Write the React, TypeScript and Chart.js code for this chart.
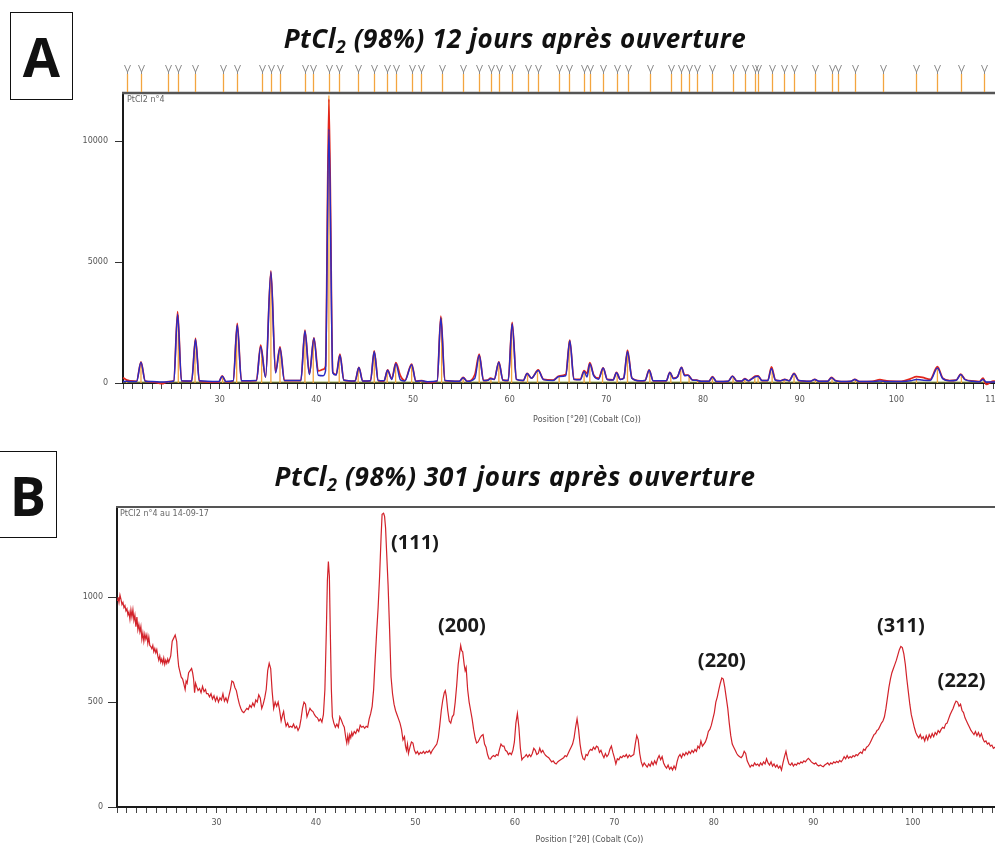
import React, { useEffect, useRef } from 'react';
import { Chart, registerables } from 'chart.js';

Chart.register(...registerables);

// ---------- Panel A : reference peak positions (°2θ) and stick heights ----------
const refPositionsA = [
  20.38, 21.86, 24.68, 25.72, 27.45, 30.31, 31.76, 34.34, 35.3, 36.24,
  38.82, 39.68, 41.3, 42.37, 44.33, 45.99, 47.33, 48.2, 49.86, 50.79,
  52.96, 55.19, 56.85, 58.06, 58.88, 60.2, 61.85, 62.88, 65.12, 66.15,
  67.7, 68.29, 69.61, 71.12, 72.19, 74.5, 76.67, 77.7, 78.56, 79.43,
  80.98, 83.11, 84.32, 85.36, 85.7, 87.15, 88.39, 89.42, 91.63, 93.35,
  93.97, 95.77, 98.62, 102.08, 104.25, 106.73, 109.07,
];
const refHeightsA = [
  100, 850, 50, 2800, 1750, 250, 2350, 1400, 4500, 1400,
  2100, 1800, 11900, 1100, 600, 1300, 500, 750, 700, 80,
  2700, 200, 1150, 150, 850, 2450, 350, 500, 250, 1750,
  450, 800, 600, 400, 1350, 500, 400, 600, 300, 100,
  250, 250, 150, 250, 300, 650, 150, 350, 120, 200,
  100, 120, 100, 200, 650, 350, 150,
];

// ---------- Panel A : observed (red) and calculated (blue) profiles ----------
const profileXA = [
  20.0, 20.4, 20.8, 21.4, 21.86, 22.3, 23.0, 24.0, 24.7, 25.25,
  25.65, 26.05, 27.1, 27.5, 27.9, 29.9, 30.27, 30.65, 31.4, 31.82,
  32.25, 33.8, 34.24, 34.75, 35.3, 35.78, 36.24, 36.7, 38.4, 38.82,
  39.28, 39.75, 40.2, 40.7, 40.95, 41.3, 41.7, 42.05, 42.44, 42.85,
  44.0, 44.4, 44.8, 45.6, 45.99, 46.4, 47.0, 47.37, 47.8, 48.23,
  48.7, 49.15, 49.86, 50.3, 50.9, 51.5, 52.5, 52.88, 53.3, 54.8,
  55.19, 55.6, 56.4, 56.85, 57.3, 57.75, 58.02, 58.4, 58.88, 59.3,
  59.85, 60.26, 60.7, 61.4, 61.81, 62.25, 62.95, 63.5, 64.5, 65.1,
  65.8, 66.22, 66.65, 67.3, 67.7, 68.0, 68.29, 68.7, 69.2, 69.67,
  70.1, 70.7, 71.05, 71.45, 71.8, 72.19, 72.65, 73.5, 74.0, 74.43,
  74.85, 76.2, 76.57, 76.95, 77.35, 77.78, 78.1, 78.46, 78.9, 79.33,
  79.8, 80.6, 80.98, 81.4, 82.6, 83.05, 83.5, 84.0, 84.32, 84.7,
  85.1, 85.4, 85.7, 86.1, 86.7, 87.08, 87.5, 88.0, 88.46, 88.9,
  89.42, 89.9, 91.1, 91.56, 92.0, 92.9, 93.29, 93.7, 94.3, 95.3,
  95.7, 96.2, 97.5, 98.3, 99.0, 100.5, 101.5, 102.08, 102.7, 103.5,
  104.25, 104.8, 105.5, 106.2, 106.66, 107.1, 108.0, 108.6, 108.97, 109.3,
  110.0, 111.0, 112.0,
];
const observedA = [
  220, 120, 90, 70, 880, 80, 50, -30, 60, 80,
  2950, 90, 70, 1850, 80, 40, 300, 50, 80, 2470,
  90, 100, 1570, 250, 4640, 450, 1500, 100, 100, 2190,
  380, 1870, 500, 560, 700, 11750, 450, 350, 1200, 120,
  80, 650, 80, 90, 1335, 100, 80, 540, 180, 840,
  300, 100, 785, 70, 100, 20, 80, 2770, 100, 70,
  235, 70, 350, 1200, 100, 120, 200, 150, 880, 120,
  100, 2510, 150, 100, 400, 200, 540, 150, 120, 290,
  350, 1780, 150, 150, 510, 400, 840, 330, 200, 630,
  150, 130, 440, 150, 200, 1360, 200, 90, 100, 540,
  90, 90, 440, 200, 250, 650, 330, 330, 130, 120,
  70, 70, 260, 60, 70, 290, 80, 80, 180, 90,
  200, 290, 300, 100, 100, 670, 120, 90, 150, 90,
  400, 100, 70, 150, 70, 70, 235, 100, 60, 70,
  150, 60, 70, 140, 90, 70, 180, 260, 230, 150,
  675, 200, 100, 120, 370, 150, 80, 60, 200, -60,
  80, 50, 40,
];
const calculatedA = [
  60, 70, 60, 60, 860, 70, 60, 40, 50, 80,
  2850, 90, 80, 1800, 90, 60, 280, 60, 90, 2400,
  90, 100, 1500, 240, 4600, 410, 1450, 100, 100, 2150,
  350, 1850, 320, 300, 500, 10500, 420, 330, 1150, 110,
  80, 640, 80, 90, 1300, 100, 90, 530, 150, 800,
  130, 80, 760, 70, 90, 50, 80, 2700, 100, 70,
  220, 70, 200, 1150, 100, 110, 180, 150, 860, 120,
  100, 2450, 150, 100, 390, 200, 520, 140, 100, 270,
  300, 1750, 150, 130, 480, 250, 800, 300, 160, 620,
  140, 120, 420, 150, 200, 1300, 200, 90, 100, 530,
  90, 90, 430, 180, 250, 640, 300, 320, 120, 110,
  70, 70, 250, 60, 70, 280, 80, 80, 170, 90,
  180, 260, 280, 100, 100, 600, 110, 90, 150, 90,
  380, 100, 70, 140, 70, 70, 220, 90, 60, 70,
  140, 60, 60, 80, 60, 60, 90, 150, 120, 100,
  620, 180, 90, 110, 350, 140, 70, 50, 150, 40,
  40, 40, 40,
];
const backgroundLevelA = 40;
const yTicksA = [0, 5000, 10000];

// ---------- Panel B : observed pattern after 301 days ----------
const patternB: [number, number][] = [
  [20.0, 985], [20.1, 1000], [20.2, 975], [20.3, 1010], [20.4, 990], [20.5, 965], [20.6, 975], [20.7, 950],
  [20.8, 960], [20.9, 935], [21.0, 945], [21.1, 915], [21.2, 930], [21.3, 895], [21.4, 940], [21.5, 905],
  [21.6, 940], [21.7, 890], [21.8, 915], [21.9, 860], [22.0, 905], [22.1, 845], [22.2, 870], [22.3, 835],
  [22.4, 860], [22.5, 800], [22.6, 830], [22.7, 790], [22.8, 825], [22.9, 800], [23.0, 820], [23.1, 780],
  [23.2, 810], [23.3, 770], [23.4, 765], [23.5, 755], [23.6, 770], [23.7, 740], [23.8, 755], [23.9, 735],
  [24.0, 750], [24.1, 720], [24.2, 700], [24.3, 720], [24.4, 690], [24.5, 705], [24.6, 685], [24.7, 710],
  [24.8, 680], [24.9, 700], [25.0, 685], [25.1, 705], [25.2, 690], [25.4, 720], [25.55, 790], [25.7, 805],
  [25.85, 820], [26.0, 790], [26.1, 720], [26.2, 670], [26.3, 650], [26.45, 620], [26.6, 610], [26.7, 590],
  [26.85, 560], [26.95, 600], [27.05, 590], [27.2, 640], [27.35, 650], [27.5, 660], [27.6, 640], [27.7, 610],
  [27.8, 545], [27.9, 590], [28.0, 575], [28.15, 555], [28.3, 565], [28.45, 545], [28.6, 575], [28.75, 550],
  [28.9, 560], [29.0, 540], [29.15, 540], [29.3, 525], [29.45, 540], [29.6, 515], [29.75, 530], [29.9, 505],
  [30.05, 525], [30.2, 500], [30.35, 520], [30.5, 510], [30.65, 540], [30.8, 505], [30.95, 520], [31.1, 500],
  [31.25, 530], [31.4, 560], [31.55, 600], [31.7, 595], [31.85, 570], [32.0, 555], [32.15, 520], [32.3, 490],
  [32.45, 470], [32.6, 455], [32.75, 450], [32.9, 460], [33.05, 470], [33.2, 465], [33.35, 485], [33.5, 475],
  [33.65, 495], [33.8, 480], [33.95, 510], [34.1, 500], [34.25, 535], [34.4, 520], [34.55, 470], [34.7, 490],
  [34.85, 520], [35.0, 560], [35.15, 650], [35.3, 685], [35.45, 660], [35.6, 550], [35.75, 470], [35.9, 500],
  [36.05, 480], [36.2, 500], [36.35, 460], [36.5, 410], [36.65, 440], [36.75, 455], [36.85, 420], [37.0, 385],
  [37.15, 400], [37.3, 380], [37.45, 385], [37.6, 380], [37.75, 395], [37.9, 375], [38.05, 385], [38.2, 365],
  [38.35, 380], [38.5, 420], [38.65, 470], [38.8, 500], [38.95, 490], [39.1, 430], [39.25, 450], [39.4, 470],
  [39.55, 460], [39.7, 455], [39.85, 440], [40.0, 430], [40.15, 425], [40.3, 410], [40.45, 420], [40.6, 405],
  [40.75, 440], [40.9, 560], [41.05, 850], [41.15, 1080], [41.25, 1170], [41.35, 1100], [41.45, 820], [41.55, 560],
  [41.65, 430], [41.8, 400], [41.95, 380], [42.1, 395], [42.25, 380], [42.4, 430], [42.55, 415], [42.7, 395],
  [42.85, 380], [43.0, 330], [43.1, 305], [43.2, 340], [43.3, 310], [43.4, 345], [43.5, 330], [43.6, 355],
  [43.7, 340], [43.85, 360], [44.0, 350], [44.15, 370], [44.3, 360], [44.45, 390], [44.6, 380], [44.75, 385],
  [44.9, 375], [45.05, 385], [45.2, 380], [45.35, 420], [45.5, 445], [45.65, 480], [45.8, 560], [45.95, 700],
  [46.1, 830], [46.25, 950], [46.4, 1100], [46.55, 1290], [46.65, 1395], [46.8, 1400], [46.9, 1385], [47.0, 1330],
  [47.1, 1220], [47.25, 1060], [47.4, 850], [47.55, 620], [47.7, 540], [47.85, 490], [48.0, 460], [48.15, 440],
  [48.3, 420], [48.45, 400], [48.6, 370], [48.75, 320], [48.9, 335], [49.0, 290], [49.1, 270], [49.2, 300],
  [49.3, 255], [49.45, 285], [49.6, 310], [49.75, 305], [49.9, 270], [50.05, 255], [50.2, 265], [50.35, 250],
  [50.5, 260], [50.65, 255], [50.8, 265], [50.95, 255], [51.1, 265], [51.25, 260], [51.4, 270], [51.55, 255],
  [51.7, 270], [51.85, 280], [52.0, 290], [52.15, 300], [52.3, 330], [52.45, 390], [52.6, 460], [52.75, 510],
  [52.9, 545], [53.0, 555], [53.1, 530], [53.25, 460], [53.4, 410], [53.55, 400], [53.7, 430], [53.85, 440],
  [54.0, 500], [54.15, 580], [54.3, 680], [54.45, 735], [54.55, 770], [54.65, 745], [54.75, 740], [54.9, 680],
  [55.0, 650], [55.1, 665], [55.25, 560], [55.4, 500], [55.55, 460], [55.7, 420], [55.85, 370], [56.0, 330],
  [56.15, 305], [56.3, 310], [56.5, 330], [56.65, 340], [56.8, 345], [56.95, 300], [57.1, 285], [57.25, 250],
  [57.4, 230], [57.55, 228], [57.7, 240], [57.85, 245], [58.0, 240], [58.15, 250], [58.3, 245], [58.45, 275],
  [58.6, 300], [58.75, 290], [58.9, 290], [59.05, 270], [59.2, 265], [59.35, 250], [59.5, 258], [59.65, 250],
  [59.8, 270], [59.95, 310], [60.1, 400], [60.25, 445], [60.4, 380], [60.55, 280], [60.7, 225], [60.85, 235],
  [61.0, 240], [61.15, 250], [61.3, 238], [61.45, 250], [61.6, 240], [61.75, 255], [61.9, 280], [62.05, 270],
  [62.2, 250], [62.35, 255], [62.5, 280], [62.65, 260], [62.8, 270], [62.95, 255], [63.1, 245], [63.25, 240],
  [63.4, 235], [63.55, 225], [63.7, 215], [63.85, 220], [64.0, 210], [64.15, 205], [64.3, 215], [64.45, 220],
  [64.6, 225], [64.75, 230], [64.9, 235], [65.05, 245], [65.2, 240], [65.35, 255], [65.5, 270], [65.65, 285],
  [65.8, 300], [65.95, 330], [66.1, 380], [66.25, 420], [66.4, 370], [66.55, 300], [66.7, 255], [66.85, 230],
  [67.0, 225], [67.15, 250], [67.3, 245], [67.45, 265], [67.6, 275], [67.75, 270], [67.9, 285], [68.05, 275],
  [68.2, 290], [68.35, 285], [68.5, 260], [68.65, 270], [68.8, 250], [68.95, 235], [69.1, 255], [69.25, 240],
  [69.4, 250], [69.55, 275], [69.7, 290], [69.85, 260], [70.0, 235], [70.15, 205], [70.3, 230], [70.45, 225],
  [70.6, 240], [70.75, 235], [70.9, 245], [71.05, 240], [71.2, 250], [71.35, 235], [71.5, 248], [71.65, 240],
  [71.8, 245], [71.95, 250], [72.1, 300], [72.25, 340], [72.4, 320], [72.55, 255], [72.7, 215], [72.85, 195],
  [73.0, 210], [73.15, 200], [73.3, 190], [73.45, 205], [73.6, 195], [73.75, 215], [73.9, 200], [74.05, 220],
  [74.2, 205], [74.35, 230], [74.5, 245], [74.65, 225], [74.8, 240], [74.95, 210], [75.1, 195], [75.25, 185],
  [75.4, 200], [75.55, 180], [75.7, 190], [75.85, 176], [76.0, 195], [76.15, 180], [76.3, 215], [76.45, 240],
  [76.6, 250], [76.75, 235], [76.9, 255], [77.05, 245], [77.2, 260], [77.35, 250], [77.5, 265], [77.65, 255],
  [77.8, 270], [77.95, 260], [78.1, 275], [78.25, 265], [78.4, 290], [78.55, 280], [78.7, 315], [78.85, 290],
  [79.0, 300], [79.15, 310], [79.3, 330], [79.45, 360], [79.6, 370], [79.75, 390], [79.9, 420], [80.05, 450],
  [80.2, 500], [80.35, 525], [80.5, 560], [80.65, 590], [80.8, 615], [80.95, 610], [81.1, 570], [81.25, 520],
  [81.4, 470], [81.55, 400], [81.7, 340], [81.85, 300], [82.0, 285], [82.15, 270], [82.3, 255], [82.45, 245],
  [82.6, 240], [82.75, 235], [82.9, 245], [83.05, 265], [83.2, 255], [83.35, 220], [83.5, 205], [83.65, 190],
  [83.8, 200], [83.95, 195], [84.1, 210], [84.25, 200], [84.4, 205], [84.55, 195], [84.7, 210], [84.85, 200],
  [85.0, 215], [85.15, 205], [85.3, 230], [85.45, 210], [85.6, 200], [85.75, 215], [85.9, 195], [86.05, 205],
  [86.2, 190], [86.35, 200], [86.5, 185], [86.65, 195], [86.8, 176], [86.95, 210], [87.1, 240], [87.25, 265],
  [87.4, 230], [87.55, 205], [87.7, 200], [87.85, 210], [88.0, 195], [88.15, 205], [88.3, 200], [88.45, 210],
  [88.6, 205], [88.75, 215], [88.9, 210], [89.05, 220], [89.2, 215], [89.35, 225], [89.5, 232], [89.65, 225],
  [89.8, 215], [89.95, 210], [90.1, 205], [90.25, 210], [90.4, 200], [90.55, 195], [90.7, 200], [90.85, 195],
  [91.0, 192], [91.15, 200], [91.3, 205], [91.45, 210], [91.6, 200], [91.75, 210], [91.9, 205], [92.05, 215],
  [92.2, 210], [92.35, 218], [92.5, 212], [92.65, 222], [92.8, 215], [92.95, 225], [93.1, 240], [93.25, 230],
  [93.4, 245], [93.55, 232], [93.7, 240], [93.85, 235], [94.0, 245], [94.15, 240], [94.3, 250], [94.45, 245],
  [94.6, 255], [94.75, 262], [94.9, 255], [95.05, 275], [95.2, 270], [95.35, 285], [95.5, 290], [95.65, 300],
  [95.8, 315], [95.95, 330], [96.1, 345], [96.25, 350], [96.4, 365], [96.55, 370], [96.7, 385], [96.85, 400],
  [97.0, 410], [97.15, 430], [97.3, 470], [97.45, 520], [97.6, 570], [97.75, 610], [97.9, 640], [98.05, 660],
  [98.2, 680], [98.35, 700], [98.5, 725], [98.65, 750], [98.8, 765], [98.95, 760], [99.1, 730], [99.25, 680],
  [99.4, 610], [99.55, 550], [99.7, 490], [99.85, 440], [100.0, 410], [100.15, 380], [100.3, 355], [100.45, 340],
  [100.6, 330], [100.75, 345], [100.9, 325], [101.05, 335], [101.2, 315], [101.35, 340], [101.5, 320], [101.65, 345],
  [101.8, 330], [101.95, 350], [102.1, 335], [102.25, 355], [102.4, 345], [102.55, 365], [102.7, 355], [102.85, 370],
  [103.0, 380], [103.15, 375], [103.3, 395], [103.45, 400], [103.6, 420], [103.75, 440], [103.9, 455], [104.05, 470],
  [104.2, 490], [104.35, 505], [104.5, 500], [104.65, 480], [104.8, 490], [104.95, 460], [105.1, 450], [105.25, 425],
  [105.4, 410], [105.55, 395], [105.7, 380], [105.85, 365], [106.0, 355], [106.15, 345], [106.3, 360], [106.45, 340],
  [106.6, 355], [106.75, 335], [106.9, 350], [107.05, 325], [107.2, 310], [107.35, 315], [107.5, 300], [107.65, 305],
  [107.8, 290], [107.95, 295], [108.1, 280], [108.25, 285], [108.4, 275], [108.55, 270], [108.7, 275], [108.85, 262],
  [109.0, 268], [109.2, 258], [109.4, 262], [109.6, 255], [109.8, 260], [110.0, 250],
];
const yTicksB = [0, 500, 1000];

// Miller-index annotations for panel B (label, °2θ, intensity)
const hklLabels = ['(111)', '(200)', '(220)', '(311)', '(222)'];
const hklPosX = [49.95, 54.67, 80.8, 98.8, 104.9];
const hklPosY = [1257, 862, 695, 862, 600];

const sampleNameA = 'PtCl2 n°4';
const sampleNameB = 'PtCl2 n°4 au 14-09-17';
const axisTitle = 'Position [°2θ] (Cobalt (Co))';

const tickFont = { family: 'DejaVu Sans', size: 8 };
const tickColor = '#555';

const xTickLabel = (v: number | string) => {
  const n = Number(v);
  return n % 10 === 0 && n > 20 ? String(n) : '';
};

const frameAPlugin = {
  id: 'frameA',
  afterDraw(chart: any) {
    const { ctx, chartArea: a } = chart;
    const x = chart.scales.x;
    ctx.save();
    ctx.strokeStyle = '#555';
    ctx.lineWidth = 2.5;
    ctx.beginPath();
    ctx.moveTo(a.left - 1, a.top);
    ctx.lineTo(chart.width, a.top);
    ctx.stroke();
    refPositionsA.forEach((p) => {
      const px = Math.round(x.getPixelForValue(p)) + 0.5;
      ctx.strokeStyle = '#f3a53f';
      ctx.lineWidth = 1.3;
      ctx.beginPath();
      ctx.moveTo(px, a.top - 19);
      ctx.lineTo(px, a.top - 1);
      ctx.stroke();
      ctx.strokeStyle = '#8a8a8a';
      ctx.lineWidth = 1;
      ctx.beginPath();
      ctx.moveTo(px - 3, a.top - 28);
      ctx.lineTo(px, a.top - 21);
      ctx.lineTo(px + 3, a.top - 28);
      ctx.moveTo(px, a.top - 21);
      ctx.lineTo(px, a.top - 19);
      ctx.stroke();
    });
    ctx.font = '8px "DejaVu Sans"';
    ctx.fillStyle = '#666';
    ctx.textBaseline = 'top';
    ctx.fillText(sampleNameA, a.left + 4, a.top + 3);
    ctx.restore();
  },
};

const frameBPlugin = {
  id: 'frameB',
  afterDraw(chart: any) {
    const { ctx, chartArea: a } = chart;
    const x = chart.scales.x;
    const y = chart.scales.y;
    ctx.save();
    ctx.strokeStyle = '#555';
    ctx.lineWidth = 2;
    ctx.beginPath();
    ctx.moveTo(a.left - 1, a.top);
    ctx.lineTo(chart.width, a.top);
    ctx.stroke();
    ctx.font = '8px "DejaVu Sans"';
    ctx.fillStyle = '#666';
    ctx.textBaseline = 'top';
    ctx.fillText(sampleNameB, a.left + 3, a.top + 3);
    ctx.font = 'bold 20px "Open Sans"';
    ctx.fillStyle = '#1a1a1a';
    ctx.textAlign = 'center';
    ctx.textBaseline = 'middle';
    hklLabels.forEach((t, i) => {
      ctx.fillText(t, x.getPixelForValue(hklPosX[i]), y.getPixelForValue(hklPosY[i]));
    });
    ctx.restore();
  },
};

function makeXScale(min: number, max: number, height: number, tickLen: number, pad: number, titlePad: number) {
  return {
    type: 'linear',
    min,
    max,
    afterFit: (s: any) => {
      s.height = height;
    },
    ticks: {
      stepSize: 1,
      autoSkip: false,
      maxRotation: 0,
      minRotation: 0,
      includeBounds: false,
      maxTicksLimit: 500,
      color: tickColor,
      font: tickFont,
      padding: pad,
      callback: xTickLabel,
    },
    grid: { drawOnChartArea: false, drawTicks: true, tickLength: tickLen, color: '#444', lineWidth: 1 },
    border: { display: true, color: '#1a1a1a', width: 2 },
    title: {
      display: true,
      text: axisTitle,
      color: '#555',
      font: tickFont,
      padding: { top: 0, bottom: titlePad },
    },
  };
}

function makeYScale(max: number, ticks: number[], width: number, tickLen: number, pad: number) {
  return {
    type: 'linear',
    min: 0,
    max,
    afterFit: (s: any) => {
      s.width = width;
    },
    afterBuildTicks: (s: any) => {
      s.ticks = ticks.map((value) => ({ value }));
    },
    ticks: {
      color: tickColor,
      font: tickFont,
      padding: pad,
      callback: (v: number | string) => String(v),
    },
    grid: { drawOnChartArea: false, tickLength: tickLen, color: '#333' },
    border: { display: true, color: '#1a1a1a', width: 2 },
  };
}

export default function App() {
  const refA = useRef<HTMLCanvasElement>(null);
  const refB = useRef<HTMLCanvasElement>(null);

  useEffect(() => {
    const sticks: any[] = [];
    refPositionsA.forEach((p, i) => {
      sticks.push({ x: p, y: 0 }, { x: p, y: refHeightsA[i] }, { x: p, y: null });
    });
    const chartA = new Chart(refA.current as HTMLCanvasElement, {
      type: 'line',
      data: {
        datasets: [
          {
            label: 'calculé',
            data: profileXA.map((x, i) => ({ x, y: calculatedA[i] })),
            borderColor: '#2a2ac2',
            borderWidth: 1.5,
            pointRadius: 0,
            cubicInterpolationMode: 'monotone',
            order: 0,
          },
          {
            label: 'observé',
            data: profileXA.map((x, i) => ({ x, y: observedA[i] })),
            borderColor: '#e2261c',
            borderWidth: 1.7,
            pointRadius: 0,
            cubicInterpolationMode: 'monotone',
            clip: false,
            order: 1,
          },
          {
            label: 'référence',
            data: sticks,
            borderColor: '#f3a53f',
            borderWidth: 1.3,
            pointRadius: 0,
            spanGaps: false,
            order: 2,
          },
          {
            label: 'fond',
            data: [
              { x: 20, y: backgroundLevelA },
              { x: 112, y: backgroundLevelA },
            ],
            borderColor: '#a2b04c',
            borderWidth: 1,
            pointRadius: 0,
            order: 3,
          },
        ],
      } as any,
      options: {
        responsive: false,
        animation: false,
        plugins: { legend: { display: false }, tooltip: { enabled: false }, title: { display: false } },
        layout: { padding: { left: 0, top: 93, right: 49, bottom: 0 } },
        scales: {
          x: makeXScale(20, 116, 47, 6, 6, 5),
          y: makeYScale(12000, yTicksA, 123, 8, 7),
        } as any,
      },
      plugins: [frameAPlugin],
    });

    const chartB = new Chart(refB.current as HTMLCanvasElement, {
      type: 'line',
      data: {
        datasets: [
          {
            label: '301 jours',
            data: patternB.map(([x, y]) => ({ x, y })),
            borderColor: '#d2222a',
            borderWidth: 1.2,
            pointRadius: 0,
            tension: 0,
          },
        ],
      } as any,
      options: {
        responsive: false,
        animation: false,
        plugins: { legend: { display: false }, tooltip: { enabled: false }, title: { display: false } },
        layout: { padding: { left: 0, top: 67, right: 38, bottom: 0 } },
        scales: {
          x: makeXScale(20, 115, 39, 6, 5, 1),
          y: makeYScale(1430, yTicksB, 117, 9, 5),
        } as any,
      },
      plugins: [frameBPlugin],
    });

    return () => {
      chartA.destroy();
      chartB.destroy();
    };
  }, []);

  const titleStyle: React.CSSProperties = {
    position: 'absolute',
    left: 0,
    width: 1030,
    textAlign: 'center',
    fontFamily: '"Open Sans", Lato, sans-serif',
    fontWeight: 700,
    fontStyle: 'italic',
    fontSize: 26,
    lineHeight: '30px',
    color: '#111',
    whiteSpace: 'nowrap',
  };
  const subStyle: React.CSSProperties = { fontSize: '0.68em', position: 'relative', top: '0.3em', lineHeight: 0 };
  const boxStyle: React.CSSProperties = {
    position: 'absolute',
    border: '1.5px solid #111',
    boxSizing: 'border-box',
    display: 'flex',
    alignItems: 'center',
    justifyContent: 'center',
    fontFamily: '"Open Sans", Lato, sans-serif',
    fontWeight: 700,
    fontSize: 54,
    color: '#111',
    background: '#fff',
  };

  return (
    <div
      style={{
        position: 'absolute',
        left: 0,
        top: 0,
        width: 995,
        height: 846,
        overflow: 'hidden',
        background: '#fff',
      }}
    >
      <canvas ref={refA} width={1100} height={430} style={{ position: 'absolute', left: 0, top: 0 }} />
      <canvas ref={refB} width={1100} height={406} style={{ position: 'absolute', left: 0, top: 440 }} />
      <div style={{ ...boxStyle, left: 10, top: 12, width: 63, height: 88 }}>A</div>
      <div style={{ ...boxStyle, left: -1, top: 451, width: 58, height: 87 }}>B</div>
      <div style={{ ...titleStyle, top: 23, letterSpacing: '0.55px' }}>
        PtCl<span style={subStyle}>2</span> (98%) 12 jours après ouverture
      </div>
      <div style={{ ...titleStyle, top: 461, letterSpacing: '0.65px' }}>
        PtCl<span style={subStyle}>2</span> (98%) 301 jours après ouverture
      </div>
    </div>
  );
}
